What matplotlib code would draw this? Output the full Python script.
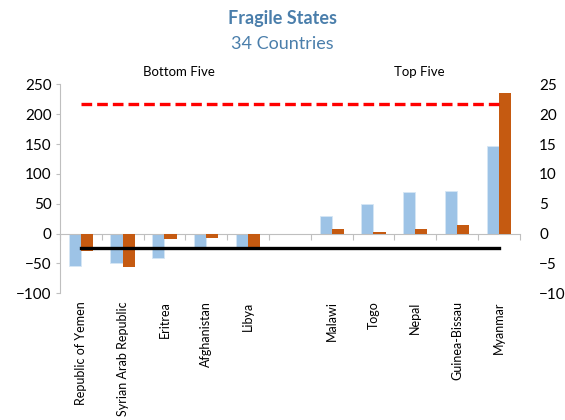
import numpy as np
import matplotlib
matplotlib.use("Agg")
import matplotlib.pyplot as plt

plt.rcParams["font.family"] = ["Lato", "DejaVu Sans"]

countries = ["Republic of Yemen", "Syrian Arab Republic", "Eritrea", "Afghanistan", "Libya",
             "",
             "Malawi", "Togo", "Nepal", "Guinea-Bissau", "Myanmar"]
blue_vals = [-54, -50, -41, -25, -24, np.nan, 30, 50, 70, 72, 147]          # left axis
orange_vals = [-3.0, -5.6, -1.0, -0.8, -2.4, np.nan, 0.8, 0.3, 0.8, 1.4, 23.6]  # right axis
red_level = 21.7     # right axis
black_level = -2.5   # right axis

BLUE = "#9DC3E6"
ORANGE = "#C55A11"
TITLE = "#4A7EAB"
GREY = "#BFBFBF"

fig = plt.figure(figsize=(5.65, 4.2), dpi=100)
ax = fig.add_axes([0.106, 0.302, 0.814, 0.497])
ax2 = ax.twinx()

x = np.arange(len(countries))
w = 0.29
ax.bar(x - w / 2, blue_vals, w, color=BLUE, edgecolor="#D6E6F5", linewidth=0.6, zorder=2)
ax2.bar(x + w / 2, orange_vals, w, color=ORANGE, zorder=2)
ax2.plot([x[0], x[-1]], [red_level, red_level], color="#FF0000", lw=2.4,
         dashes=(3.2, 1.5), zorder=3)
ax2.plot([x[0], x[-1]], [black_level, black_level], color="black", lw=2.4, zorder=3)

ax.set_xlim(-0.5, len(countries) - 0.5)
ax.set_ylim(-100, 250)
ax.set_yticks(range(-100, 251, 50))
ax2.set_ylim(-10, 25)
ax2.set_yticks(range(-10, 26, 5))

# zero line with boundary ticks
for s in ["top", "right"]:
    ax.spines[s].set_visible(False)
for s in ["top", "right", "left", "bottom"]:
    ax2.spines[s].set_visible(False)
ax.spines["bottom"].set_position(("data", 0))
ax.spines["bottom"].set_color(GREY)
ax.spines["left"].set_color(GREY)
ax.set_xticks(np.arange(-0.5, len(countries), 1.0))
ax.set_xticklabels([])
ax.tick_params(axis="x", length=4, color=GREY)
ax.tick_params(axis="y", length=3, color=GREY, labelsize=11, pad=3)
ax2.tick_params(axis="y", length=0, labelsize=11, pad=14)

sec = ax.secondary_xaxis("bottom")
sec.set_xticks(x)
sec.set_xticklabels(countries, rotation=90, fontsize=9)
sec.tick_params(length=0, pad=6)
sec.spines["bottom"].set_visible(False)

ax.text(2.35, 1.058, "Bottom Five", transform=ax.get_xaxis_transform(), ha="center",
        va="center", fontsize=9.5)
ax.text(8.1, 1.058, "Top Five", transform=ax.get_xaxis_transform(), ha="center",
        va="center", fontsize=9.5)

fig.text(0.5, 0.957, "Fragile States", ha="center", va="center", fontsize=13,
         fontweight="bold", color=TITLE)
fig.text(0.5, 0.895, "34 Countries", ha="center", va="center", fontsize=13, color=TITLE)

fig.savefig("out.png", dpi=100)
